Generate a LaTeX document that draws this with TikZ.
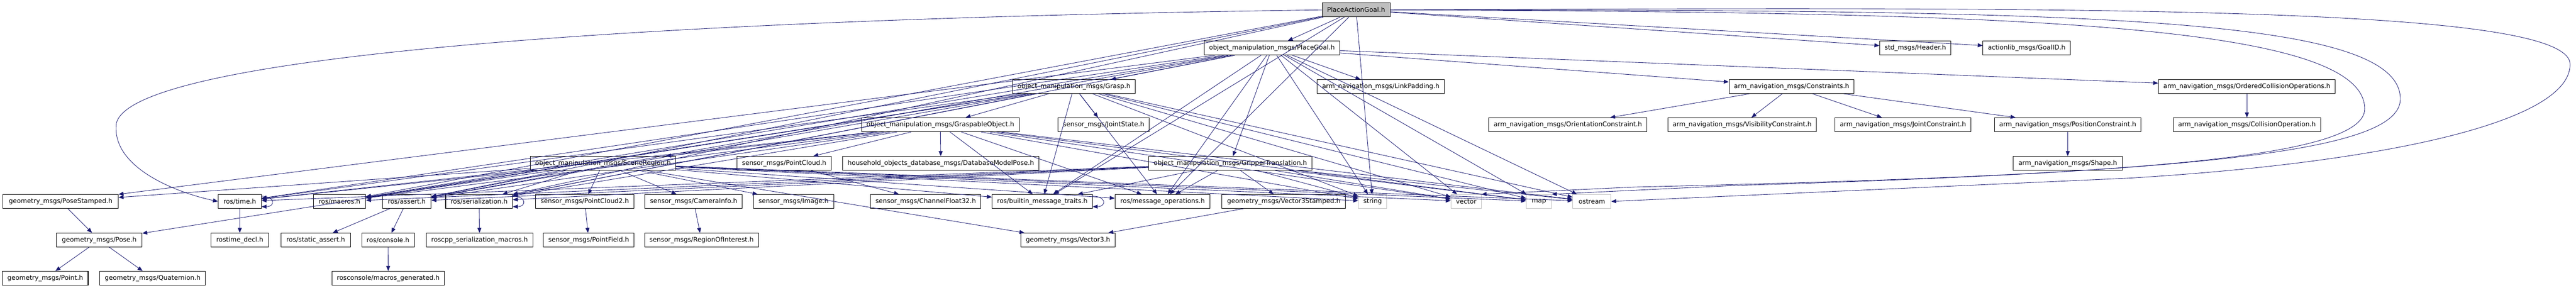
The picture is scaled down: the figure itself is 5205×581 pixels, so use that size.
\documentclass[tikz,border=0pt]{standalone}
\usepackage{fontspec}
\setmainfont{DejaVu Sans}
\usetikzlibrary{arrows.meta}
\definecolor{edgecol}{HTML}{191970}
\begin{document}
\begin{tikzpicture}[x=1pt,y=-1pt,
  nd/.style={draw=black, line width=1.1pt, fill=white, minimum height=28pt, inner xsep=10pt, inner ysep=0pt, font=\fontsize{13}{15}\selectfont},
  sys/.style={nd, draw=black!25},
  rootnd/.style={nd, fill=black!25},
  ed/.style={draw=edgecol, line width=0.9pt, -{Triangle[length=10pt,width=8pt]}}]
\useasboundingbox (0,0) rectangle (5205,581);
% row 20
\node[rootnd] (root) at (2740,20) {PlaceActionGoal.h};
% row 97
\node[nd] (pg) at (2570,97) {object\_manipulation\_msgs/PlaceGoal.h};
\node[nd] (header) at (3870,97) {std\_msgs/Header.h};
\node[nd] (goalid) at (4095,97) {actionlib\_msgs/GoalID.h};
% row 175
\node[nd] (grasp) at (2170,175) {object\_manipulation\_msgs/Grasp.h};
\node[nd] (linkpad) at (2790,175) {arm\_navigation\_msgs/LinkPadding.h};
\node[nd] (constr) at (3620,175) {arm\_navigation\_msgs/Constraints.h};
\node[nd] (ordcoll) at (4540,175) {arm\_navigation\_msgs/OrderedCollisionOperations.h};
% row 252
\node[nd] (graspable) at (1900,252) {object\_manipulation\_msgs/GraspableObject.h};
\node[nd] (jstate) at (2230,252) {sensor\_msgs/JointState.h};
\node[nd] (orient) at (3168,252) {arm\_navigation\_msgs/OrientationConstraint.h};
\node[nd] (visib) at (3520,252) {arm\_navigation\_msgs/VisibilityConstraint.h};
\node[nd] (jointc) at (3845,252) {arm\_navigation\_msgs/JointConstraint.h};
\node[nd] (posc) at (4178,252) {arm\_navigation\_msgs/PositionConstraint.h};
\node[nd] (collop) at (4540,252) {arm\_navigation\_msgs/CollisionOperation.h};
% row 330
\node[nd, minimum width=291pt] (scene) at (1218.5,330) {object\_manipulation\_msgs/SceneRegion.h};
\node[nd, minimum width=191pt] (pcloud) at (1584.5,330) {sensor\_msgs/PointCloud.h};
\node[nd, minimum width=396pt] (dbpose) at (1901,330) {household\_objects\_database\_msgs/DatabaseModelPose.h};
\node[nd, minimum width=324pt] (gripper) at (2486,330) {object\_manipulation\_msgs/GripperTranslation.h};
\node[nd, minimum width=220pt] (shape) at (4178,330) {arm\_navigation\_msgs/Shape.h};
% row 407
\node[nd, minimum width=233pt] (pstamped) at (122.5,407) {geometry\_msgs/PoseStamped.h};
\node[nd, minimum width=87pt] (time) at (484.5,407) {ros/time.h};
\node[nd, minimum width=106pt] (macros) at (686,407) {ros/macros.h};
\node[nd, minimum width=98pt] (assert) at (822,407) {ros/assert.h};
\node[nd, minimum width=134pt] (serial) at (968,407) {ros/serialization.h};
\node[nd, minimum width=199pt] (pc2) at (1181.5,407) {sensor\_msgs/PointCloud2.h};
\node[nd, minimum width=197pt] (caminfo) at (1401.5,407) {sensor\_msgs/CameraInfo.h};
\node[nd, minimum width=163pt] (image) at (1603.5,407) {sensor\_msgs/Image.h};
\node[nd, minimum width=221pt] (chf) at (1870.5,407) {sensor\_msgs/ChannelFloat32.h};
\node[nd, minimum width=202pt] (bmt) at (2106,407) {ros/builtin\_message\_traits.h};
\node[nd, minimum width=192pt] (msgops) at (2349,407) {ros/message\_operations.h};
\node[nd, minimum width=250pt] (v3s) at (2594,407) {geometry\_msgs/Vector3Stamped.h};
\node[sys, minimum width=57pt] (string) at (2773.5,407) {string};
\node[sys, minimum width=61pt] (vector) at (2962.5,407) {vector};
\node[sys, minimum width=51pt] (map) at (3109.5,407) {map};
\node[sys, minimum width=77pt] (ostream) at (3216.5,407) {ostream};
% row 485
\node[nd, minimum width=173pt] (pose) at (200.5,485) {geometry\_msgs/Pose.h};
\node[nd, minimum width=117pt] (tdecl) at (484.5,485) {rostime\_decl.h};
\node[nd, minimum width=140pt] (sassert) at (638,485) {ros/static\_assert.h};
\node[nd, minimum width=106pt] (console) at (784,485) {ros/console.h};
\node[nd, minimum width=214pt] (smacros) at (969,485) {roscpp\_serialization\_macros.h};
\node[nd, minimum width=183pt] (pfield) at (1189.5,485) {sensor\_msgs/PointField.h};
\node[nd, minimum width=229pt] (roi) at (1417.5,485) {sensor\_msgs/RegionOfInterest.h};
\node[nd, minimum width=190pt] (vec3) at (2158,485) {geometry\_msgs/Vector3.h};
% row 562
\node[nd, minimum width=173pt] (point) at (91.5,562) {geometry\_msgs/Point.h};
\node[nd, minimum width=213pt] (quat) at (308.5,562) {geometry\_msgs/Quaternion.h};
\node[nd, minimum width=227pt] (rcgen) at (784.5,562) {rosconsole/macros\_generated.h};

% edges from the root
\foreach \t in {pg,header,goalid,macros,assert,serial,string,bmt,msgops} \draw[ed] (root) -- (\t);
\draw[ed] (root.west) .. controls (1200,40) and (260,120) .. (235,250) .. controls (225,340) and (360,390) .. (time.west);
\draw[ed] (root.east) .. controls (4200,14) and (5193,10) .. (5193,130) .. controls (5193,250) and (4800,330) .. (4300,360) -- (ostream.east);
\draw[ed] (root.east) .. controls (4200,20) and (4850,30) .. (4850,200) .. controls (4850,300) and (4500,345) .. (3500,375) -- (map.north east);
\draw[ed] (root.east) .. controls (4000,25) and (4778,40) .. (4778,220) .. controls (4778,320) and (4300,355) .. (3300,378) -- (vector.north east);
% object_manipulation headers
\foreach \s in {pg,grasp,graspable,scene,gripper}
  \foreach \t in {time,macros,assert,serial,bmt,msgops,string,vector,map,ostream}
    \draw[ed] (\s) -- (\t);
\foreach \t in {grasp,linkpad,constr,ordcoll,gripper,pstamped} \draw[ed] (pg) -- (\t);
\foreach \t in {graspable,jstate,pose} \draw[ed] (grasp) -- (\t);
\foreach \t in {scene,pcloud,dbpose} \draw[ed] (graspable) -- (\t);
\foreach \t in {pc2,caminfo,image,pstamped,vec3} \draw[ed] (scene) -- (\t);
\draw[ed] (gripper) -- (v3s);
\draw[ed] (pcloud) -- (chf);
\foreach \t in {orient,visib,jointc,posc} \draw[ed] (constr) -- (\t);
\draw[ed] (posc) -- (shape);
\draw[ed] (ordcoll) -- (collop);
\draw[ed] (pc2) -- (pfield);
\draw[ed] (caminfo) -- (roi);
\draw[ed] (pstamped) -- (pose);
\draw[ed] (pose) -- (point);
\draw[ed] (pose) -- (quat);
\draw[ed] (v3s) -- (vec3);
\draw[ed] (time) -- (tdecl);
\draw[ed] (serial) -- (smacros);
\draw[ed] (assert) -- (sassert);
\draw[ed] (assert) -- (console);
\draw[ed] (console) -- (rcgen);
\foreach \n in {time,serial,bmt}
  \draw[ed] ([yshift=-4pt]\n.north east) .. controls +(28pt,0) and +(28pt,0) .. ([yshift=4pt]\n.south east);
\end{tikzpicture}
\end{document}
